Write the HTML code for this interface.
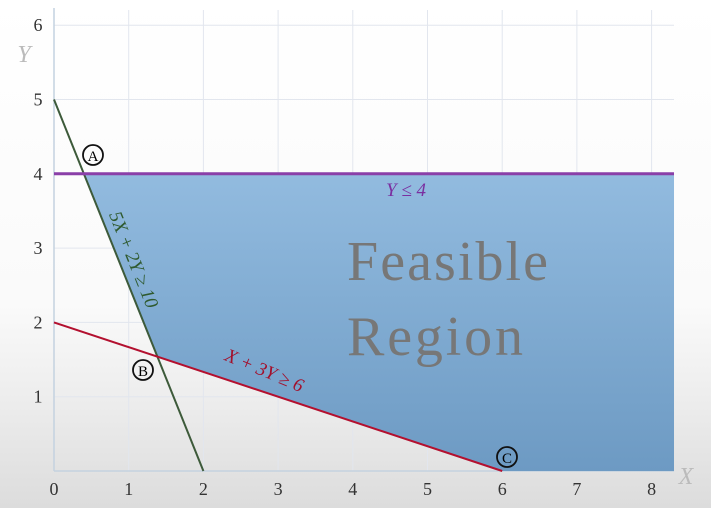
<!DOCTYPE html>
<html><head><meta charset="utf-8"><style>
body{margin:0;width:711px;height:508px;overflow:hidden;background:#fff}
svg{display:block}
text{font-family:"Liberation Serif",serif}
</style></head><body>
<svg width="711" height="508">
<defs>
<linearGradient id="bg" x1="0" y1="0" x2="0" y2="1">
<stop offset="0" stop-color="#ffffff"/><stop offset="0.6" stop-color="#fafafa"/><stop offset="0.8" stop-color="#ececec"/><stop offset="1" stop-color="#dcdcdc"/></linearGradient>
<linearGradient id="reg" x1="0" y1="0" x2="0" y2="1">
<stop offset="0" stop-color="#92bbdf"/><stop offset="1" stop-color="#6d9ac3"/></linearGradient>
</defs>
<rect width="711" height="508" fill="url(#bg)"/>
<g id="grid"></g><g id="region"></g><g id="lines"></g><g id="labels"></g>
</svg>
<script>
const xTicks=[0,1,2,3,4,5,6,7,8];
const yTicks=[1,2,3,4,5,6];
const xMax=8.3;
const constraintA=[5,2,10]; // 5X+2Y>=10
const constraintB=[1,3,6];  // X+3Y>=6
const yLimit=4;
const sx=v=>54+v*74.7, sy=v=>471-v*74.3;
const NS="http://www.w3.org/2000/svg";
function mk(tag,attrs,parent,txt){const e=document.createElementNS(NS,tag);for(const k in attrs)e.setAttribute(k,attrs[k]);if(txt!==undefined)e.textContent=txt;parent.appendChild(e);return e;}
const grid=document.getElementById('grid');
xTicks.forEach(t=>{
 if(t>0){const l=mk('line',{x1:sx(t),x2:sx(t),y1:10,y2:sy(0),stroke:'#e2e6ee','stroke-width':1},grid);
 
 }
 const tx=mk('text',{x:sx(t),y:495,'text-anchor':'middle','font-size':18,fill:'#333'},grid,t);
 
 
});
yTicks.forEach(t=>{
 const l=mk('line',{x1:sx(0),x2:sx(xMax),y1:sy(t),y2:sy(t),stroke:'#e2e6ee','stroke-width':1},grid);
 
 
 const tx=mk('text',{x:38,y:sy(t)+6,'text-anchor':'middle','font-size':18,fill:'#333'},grid,t);
 
 
});
const xa=mk('line',{x1:sx(0),x2:sx(xMax),y1:sy(0),y2:sy(0),stroke:'#c4d2e0','stroke-width':1.5},grid);


const ya=mk('line',{x1:sx(0),x2:sx(0),y1:8,y2:sy(0),stroke:'#c4d2e0','stroke-width':1.5},grid);


const xt=mk('text',{x:686,y:484,'font-size':24,'font-style':'italic',fill:'#bbb','text-anchor':'middle'},grid,'X');


const yt=mk('text',{x:24,y:62,'font-size':24,'font-style':'italic',fill:'#bbb','text-anchor':'middle'},grid,'Y');


const [a1,b1,c1]=constraintA,[a2,b2,c2]=constraintB;
const A=[(c1-b1*yLimit)/a1,yLimit];
const det=a1*b2-a2*b1;
const B=[(c1*b2-c2*b1)/det,(a1*c2-a2*c1)/det];
const C=[c2/a2,0];
const pts=[A,[xMax,yLimit],[xMax,0],C,B].map(p=>sx(p[0])+','+sy(p[1])).join(' ');
const reg=mk('polygon',{points:pts,fill:'url(#reg)'},document.getElementById('region'));


const L=document.getElementById('lines');
const g1=mk('line',{x1:sx(0),y1:sy(c1/b1),x2:sx(c1/a1),y2:sy(0),stroke:'#3d5a3a','stroke-width':2},L);


const r1=mk('line',{x1:sx(0),y1:sy(c2/b2),x2:sx(c2/a2),y2:sy(0),stroke:'#b3102f','stroke-width':2},L);


const p1=mk('line',{x1:sx(0),y1:sy(yLimit),x2:sx(xMax),y2:sy(yLimit),stroke:'#8a3fa8','stroke-width':3},L);


</script>
<svg width="711" height="508" style="position:absolute;left:0;top:0">
<text x="406" y="196" font-size="19" fill="#7a2fa0" font-style="italic" text-anchor="middle">Y ≤ 4</text>
<text x="0" y="0" font-size="19" fill="#2f5a2f" font-style="italic" text-anchor="middle" transform="translate(128,262) rotate(68)">5X + 2Y ≥ 10</text>
<text x="0" y="0" font-size="19" fill="#a3102c" font-style="italic" text-anchor="middle" transform="translate(262,376) rotate(23)">X + 3Y ≥ 6</text>
<text x="347" y="280" font-size="56" fill="#777" textLength="201">Feasible</text>
<text x="347" y="355" font-size="56" fill="#777" textLength="176">Region</text>
<g><circle cx="93" cy="155" r="10" fill="none" stroke="#111" stroke-width="1.8"/><text x="93" y="161" font-size="15" text-anchor="middle" font-family="Liberation Sans">A</text></g>
<g><circle cx="143" cy="370" r="10" fill="none" stroke="#111" stroke-width="1.8"/><text x="143" y="376" font-size="15" text-anchor="middle" font-family="Liberation Sans">B</text></g>
<g><circle cx="507" cy="457" r="10" fill="none" stroke="#111" stroke-width="1.8"/><text x="507" y="463" font-size="15" text-anchor="middle" font-family="Liberation Sans">C</text></g>
</svg>
</body></html>
